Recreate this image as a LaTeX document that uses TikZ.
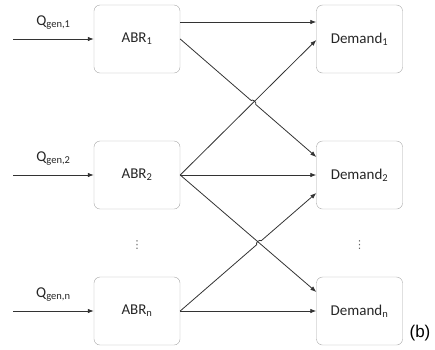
\documentclass[tikz,border=0pt]{standalone}
\usepackage{fontspec}
\setmainfont{Carlito}
\newfontfamily\tagfont{Liberation Sans}
\newfontfamily\symfont{DejaVu Sans}
\usetikzlibrary{arrows.meta,calc}

\begin{document}
\begin{tikzpicture}[x=1pt,y=1pt,font=\fontsize{15}{17}\selectfont,
	box/.style={draw=black!35, rounded corners=6pt, minimum width=86pt, minimum height=68pt, inner sep=0pt, text=black!85},
	flow/.style={draw=black!80, line width=0.8pt, -{Latex[length=6pt,width=4.5pt]}},
	dots/.style={text=black!60, font=\symfont\fontsize{11}{12}\selectfont}]
	\useasboundingbox (0,0) rectangle (435,-349);

	\node[box] (ABR1) at (137,-39) {ABR\textsubscript{1}};
	\node[box] (ABR2) at (137,-175) {ABR\textsubscript{2}};
	\node[box] (ABRn) at (137,-311) {ABR\textsubscript{n}};
	\node[box] (D1) at (359.5,-39) {Demand\textsubscript{1}};
	\node[box] (D2) at (359.5,-175) {Demand\textsubscript{2}};
	\node[box] (Dn) at (359.5,-311) {Demand\textsubscript{n}};
	\node[dots] (vdots1) at (137,-245) {⋮};
	\node[dots] (vdots2) at (359.5,-245) {⋮};
	\node[font=\tagfont\fontsize{17}{18}\selectfont, anchor=base] (tag) at (420,-337.5) {(b)};

	% inputs
	\coordinate (in1) at (13,-39);
	\coordinate (in2) at (13,-175);
	\coordinate (inn) at (13,-311);
	\draw[flow] (in1) -- node[above=6pt, text=black!85] {Q\textsubscript{gen,1}} (ABR1);
	\draw[flow] (in2) -- node[above=6pt, text=black!85] {Q\textsubscript{gen,2}} (ABR2);
	\draw[flow] (inn) -- node[above=6pt, text=black!85] {Q\textsubscript{gen,n}} (ABRn);

	% arrow ends on the demand boxes
	\coordinate (d1top) at ([yshift=17pt]D1.west);
	\coordinate (d1mid) at ([yshift=-1pt]D1.west);
	\coordinate (d2top) at ([yshift=18pt]D2.west);
	\coordinate (d2bot) at ([yshift=-18pt]D2.west);
	\coordinate (dntop) at ([yshift=19pt]Dn.west);

	% crossings
	\coordinate (X1) at (intersection of ABR1.east--d2top and ABR2.east--d1mid);
	\coordinate (X2) at (intersection of ABR2.east--dntop and ABRn.east--d2bot);

	\draw[flow] ([yshift=17pt]ABR1.east) -- (d1top);
	\draw[flow] (ABR1.east) -- ($(X1)!3pt!(ABR1.east)$) to[bend left=90] ($(X1)!3pt!(d2top)$) -- (d2top);
	\draw[flow] (ABR2.east) -- (d1mid);
	\draw[flow] (ABR2.east) -- (D2.west);
	\draw[flow] (ABR2.east) -- (dntop);
	\draw[flow] (ABRn.east) -- ($(X2)!3pt!(ABRn.east)$) to[bend left=90] ($(X2)!3pt!(d2bot)$) -- (d2bot);
	\draw[flow] (ABRn.east) -- (Dn.west);
\end{tikzpicture}
\end{document}
